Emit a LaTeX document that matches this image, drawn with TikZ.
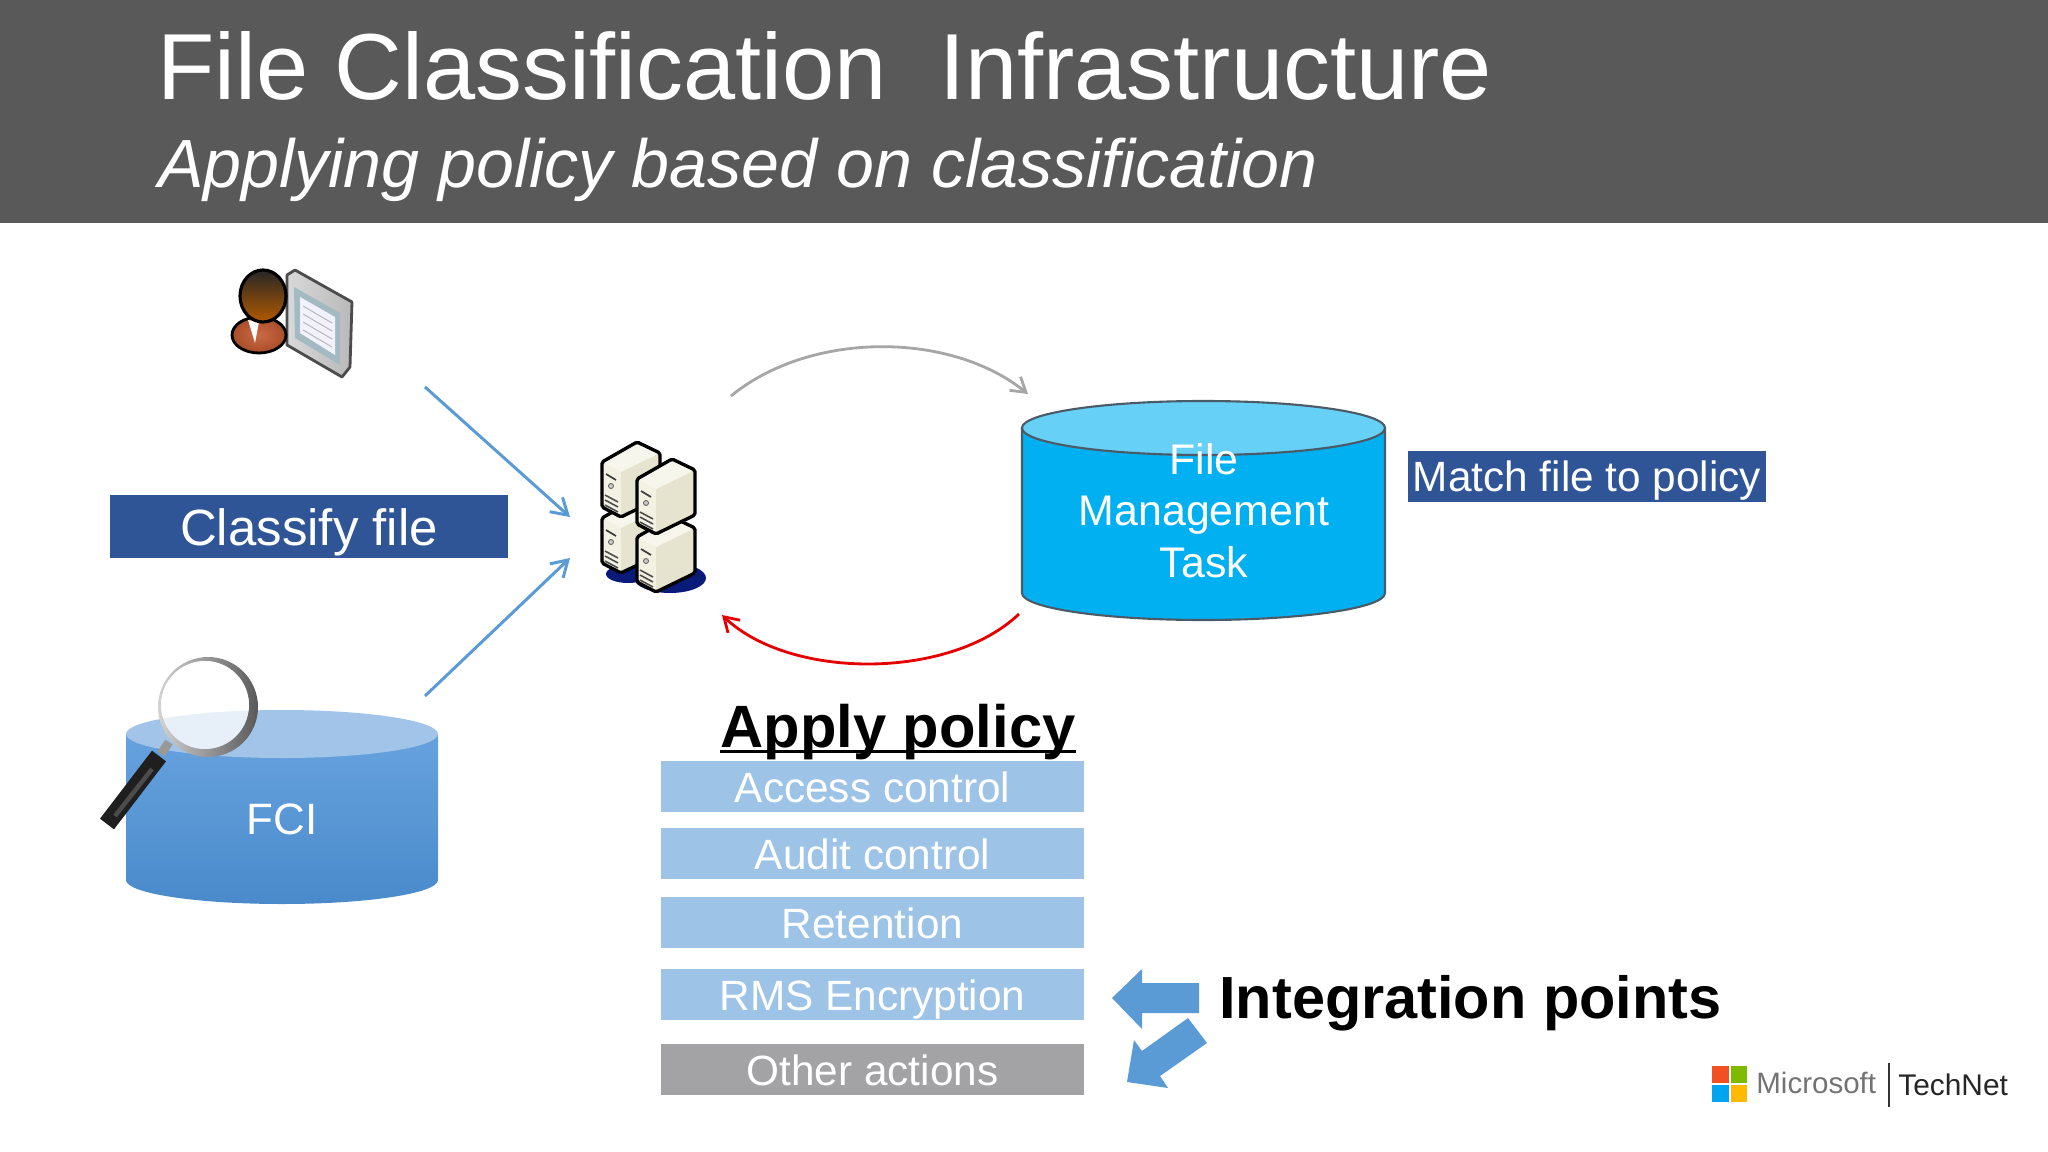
\documentclass[tikz,border=0pt]{standalone}
\usepackage{fontspec}
\setmainfont{Liberation Sans}
\usetikzlibrary{arrows.meta}
\definecolor{titlegray}{HTML}{595959}
\definecolor{darkblue}{HTML}{2F5597}
\definecolor{arrowblue}{HTML}{5B9BD5}
\definecolor{listblue}{HTML}{9DC3E6}
\definecolor{listgray}{HTML}{A3A2A5}
\definecolor{fmtblue}{HTML}{00B0F0}
\definecolor{fmttop}{HTML}{66D0F6}
\definecolor{fmtedge}{HTML}{4A5A66}
\definecolor{fcihigh}{HTML}{66A2DE}
\definecolor{fcilow}{HTML}{4A8ACB}
\definecolor{fcitop}{HTML}{A2C4E8}
\definecolor{cream}{HTML}{F3F1E2}
\definecolor{creamdark}{HTML}{E6E3CE}
\definecolor{navy}{HTML}{0A1A78}
\definecolor{suit}{HTML}{C65A30}
\definecolor{msred}{HTML}{F25022}
\definecolor{msgreen}{HTML}{7FBA00}
\definecolor{msblue}{HTML}{00A4EF}
\definecolor{msyellow}{HTML}{FFB900}
\newcommand{\fsz}[1]{\fontsize{#1}{#1}\selectfont}
\newcommand{\serverbox}[2]{%
  \begin{scope}[shift={(#1,#2)}]
    \path [fill=creamdark,rounded corners=1pt] (0,0)--(-35,20)--(-35,65)--(-16,75)--(23,56)--(23,11)--cycle;
    \fill [cream] (-35,20)--(-16,30)--(-16,75)--(-35,65)--cycle;
    \fill [white!35!cream] (0,0)--(-35,20)--(-16,30)--(23,11)--cycle;
    \draw [black!75,line width=1pt] (-31,32)--(-21,38);
    \draw [black!60,line width=0.5pt,fill=gray!40] (-26,44) circle (2.5);
    \draw [black!70,line width=0.9pt] (-32,53)--(-19,60) (-32,58)--(-19,65) (-32,63)--(-19,70);
    \draw [black,line width=1.9pt,line join=round,rounded corners=1pt] (0,0)--(-35,20)--(-35,65)--(-16,75)--(23,56)--(23,11)--cycle;
  \end{scope}}
\tikzset{
  listbox/.style={fill=listblue,minimum width=423*0.02cm,minimum height=51*0.02cm,inner sep=0pt,text=white,text height=19.7pt,text depth=1.2pt,font=\fsz{24.1}},
  banner/.style={fill=darkblue,inner sep=0pt,text=white},
  linkarrow/.style={arrowblue,line width=1.7pt,-{Straight Barb[length=9pt,width=11pt]}},
  looparrow/.style={line width=1.6pt,-{Straight Barb[length=8pt,width=10pt]}},
  blockarrow/.style={fill=arrowblue},
  cylside/.style={draw=fmtedge,line width=1.2pt}
}
\begin{document}
\begin{tikzpicture}[x=0.02cm,y=-0.02cm]
  \useasboundingbox (0,0) rectangle (2048,1152);
  \fill [titlegray] (0,0) rectangle (2048,223);
  \node [anchor=base west,inner sep=0pt,text=white,font=\fsz{53.4}] (title) at (157,100) {File Classification\ \ Infrastructure};
  \node [anchor=base west,inner sep=0pt,text=white,font=\fsz{38.8}\itshape] (subtitle) at (158,188) {Applying policy based on classification};

  % user with document
  \shade [left color=gray!30,right color=gray!55,draw=black!70,line width=1.6pt,line join=round] (287,275)--(295,270)--(352,302)--(350,367)--(342,377)--(287,345)--cycle;
  \fill [blue!25!cyan!20!gray!60] (294,287)--(340,313)--(340,365)--(295,338)--cycle;
  \fill [blue!5] (300,297)--(335,317)--(335,355)--(300,333)--cycle;
  \draw [gray!60,line width=0.5pt] (303,306)--(332,323) (303,314)--(332,331) (303,322)--(332,339) (303,330)--(332,347);
  \shade [inner color=suit!90!white,outer color=suit!85!black,draw=black,line width=1.6pt] (259,335) ellipse (27 and 18);
  \fill [white] (248,320)--(259,322)--(255,343)--cycle;
  \shade [top color=black!85,middle color=orange!85!black,bottom color=orange!70!black,draw=black,line width=1.8pt] (263,296) ellipse (23 and 26);

  % servers
  \fill [navy] (670,578) ellipse (36 and 15);
  \fill [navy] (628,574) ellipse (22 and 9);
  \serverbox{637}{498}
  \serverbox{637}{442}
  \serverbox{672}{517}
  \serverbox{672}{459}

  % arrows into servers
  \coordinate (user) at (425,387);
  \coordinate (fci) at (425,696);
  \coordinate (srvA) at (570,517);
  \coordinate (srvB) at (570,558);
  \draw [linkarrow] (user)--(srvA);
  \draw [linkarrow] (fci)--(srvB);
  \node [banner,minimum width=398*0.02cm,minimum height=63*0.02cm,text height=24.5pt,text depth=3pt,font=\fsz{29}] (classify) at (309,526.5) {Classify file};

  % FCI store
  \shade [top color=fcihigh,bottom color=fcilow] (126,734)--(126,880) arc (180:0:156 and 24)--(438,734)--cycle;
  \fill [fcitop] (282,734) ellipse (156 and 24);
  \node [text=white,inner sep=0pt,font=\fsz{25}] (fcilabel) at (282,819) {FCI};
  \draw [gray!80,line width=5pt] (169,742)--(161,754);
  \draw [black!88,line width=10pt] (159,756)--(107,824);
  \draw [gray!60!black,line width=2.5pt] (152,769)--(115,816);
  \shade [left color=gray!35,right color=gray!70!black,even odd rule] (208,707) circle (50) (205,705) circle (44);
  \fill [white,opacity=0.75] (205,705) circle (44);

  % file management task
  \draw [cylside,fill=fmtblue] (1022,428)--(1022,593) arc (180:0:181.5 and 27)--(1385,428)--cycle;
  \draw [cylside,fill=fmttop] (1203.5,428) ellipse (181.5 and 27);
  \node [align=center,text=white,inner sep=0pt,font=\fontsize{24.4}{29.4}\selectfont] (fmt) at (1204,510.5) {File\\Management\\Task};
  \node [banner,minimum width=358*0.02cm,minimum height=51*0.02cm,text height=18pt,text depth=1.2pt,font=\fsz{24.1}] (match) at (1587,476.5) {Match file to policy};

  % loop arrows
  \coordinate (grayA) at (731,396);
  \coordinate (grayB) at (1028,394);
  \coordinate (redA) at (1019,614);
  \coordinate (redB) at (722,615);
  \draw [looparrow,gray!70] (grayA) .. controls (810,331) and (950,331) .. (grayB);
  \draw [looparrow,red!90!black] (redA) .. controls (950,680) and (790,680) .. (redB);

  % policy list
  \node [anchor=base,inner sep=0pt,font=\fsz{34}\bfseries] (apply) at (898,747) {Apply policy};
  \draw [line width=2pt] ([yshift=-2.5pt]apply.base west)--([yshift=-2.5pt]apply.base east);
  \node [listbox] (access) at (872.5,786.5) {Access control};
  \node [listbox] (audit) at (872.5,853.5) {Audit control};
  \node [listbox] (retention) at (872.5,922.5) {Retention};
  \node [listbox] (rms) at (872.5,994) {RMS Encryption};
  \node [listbox,fill=listgray] (other) at (872.5,1069.5) {Other actions};

  % integration points
  \fill [blockarrow] (1112,998)--(1142,969)--(1142,983)--(1199,983)--(1199,1013)--(1142,1013)--(1142,1029)--cycle;
  \fill [blockarrow] (1188,1018)--(1207,1043)--(1160,1076)--(1168,1088)--(1127,1082)--(1134,1040)--(1142,1051)--cycle;
  \node [anchor=base west,inner sep=0pt,font=\fsz{33.85}\bfseries] (integration) at (1219,1018) {Integration points};

  % logo
  \fill [msred] (1712,1066) rectangle (1728.5,1083);
  \fill [msgreen] (1730.5,1066) rectangle (1747,1083);
  \fill [msblue] (1712,1085) rectangle (1728.5,1102);
  \fill [msyellow] (1730.5,1085) rectangle (1747,1102);
  \node [anchor=base west,inner sep=0pt,text=black!55,font=\fsz{16.8}] (microsoft) at (1756,1093) {Microsoft};
  \draw [black!80,line width=0.7pt] (1889,1063)--(1889,1107);
  \node [anchor=base west,inner sep=0pt,text=black!85,font=\fsz{17}] (technet) at (1898,1095) {TechNet};
\end{tikzpicture}
\end{document}
